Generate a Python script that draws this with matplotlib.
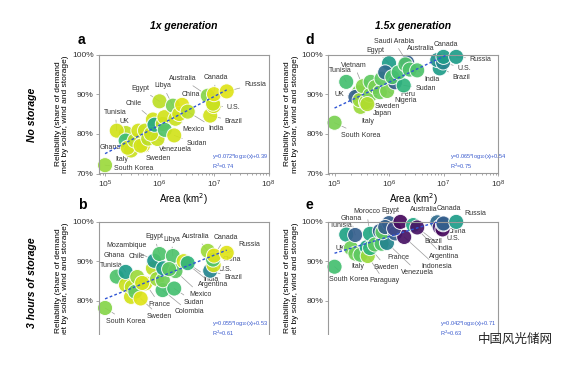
import numpy as np
import matplotlib
matplotlib.use('Agg')
import matplotlib.pyplot as plt
from matplotlib.patches import Rectangle

plt.rcParams['font.family'] = ['Liberation Sans', 'DejaVu Sans']

# ---- panel a: 1x generation, no storage ----
a_names = ['UK', 'South Korea', 'Tunisia', 'Ghana', 'Italy', '', '', '', '', '', 'Sweden',
           '', 'Chile', 'Venezuela', '', '', '', 'Egypt', '', 'Libya', '', 'Sudan', 'Mexico',
           '', '', 'India', 'Brazil', 'Australia', 'U.S.', 'China', 'Canada', 'Russia']
a_area = [2.42e5, 1.0e5, 1.64e5, 2.39e5, 3.0e5, 2.6e5, 3.5e5, 4.1e5, 5.0e5, 5.4e5, 4.5e5,
          6.2e5, 7.56e5, 9.16e5, 7.0e5, 8.1e5, 1.15e6, 1.0e6, 1.23e6, 1.76e6, 1.25e6, 1.86e6, 1.96e6,
          2.3e6, 2.6e6, 3.29e6, 8.52e6, 7.69e6, 9.83e6, 9.6e6, 9.98e6, 1.71e7]
a_rel = [80.2, 72.1, 80.8, 78.3, 75.8, 76.5, 78.3, 80.8, 77.1, 80.8, 77.0,
         78.8, 83.6, 78.7, 80.0, 82.3, 82.5, 88.2, 84.2, 87.1, 81.0, 79.6, 83.8,
         85.0, 87.3, 85.6, 84.6, 89.6, 87.0, 87.6, 90.0, 90.7]
a_col = [0.9, 0.85, 0.93, 0.68, 0.92, 0.93, 0.9, 0.93, 0.95, 0.92, 0.93,
         0.9, 0.93, 0.92, 0.92, 0.6, 0.9, 0.9, 0.93, 0.8, 0.72, 0.93, 0.92,
         0.93, 0.95, 0.9, 0.93, 0.82, 0.93, 0.92, 0.95, 0.95]

# ---- panel d: 1.5x generation, no storage ----
d_names = ['South Korea', 'Tunisia', '', 'UK', 'Italy', '', 'Vietnam', 'Japan', 'Sweden', '', '',
           '', '', 'Nigeria', '', 'Egypt', '', 'Peru', '', 'Sudan', '', 'Saudi Arabia', '', '',
           'India', 'Brazil', 'Australia', 'U.S.', 'Canada', 'Russia']
d_area = [1.0e5, 1.64e5, 2.8e5, 2.42e5, 3.0e5, 2.9e5, 3.31e5, 3.78e5, 4.5e5, 4.0e5, 4.6e5,
          5.6e5, 6.8e5, 9.24e5, 7.3e5, 1.0e6, 8.5e5, 1.29e6, 1.15e6, 1.86e6, 1.5e6, 2.15e6, 2.0e6, 2.4e6,
          3.29e6, 8.52e6, 7.69e6, 9.83e6, 9.98e6, 1.71e7]
d_rel = [82.8, 93.1, 90.5, 89.3, 86.8, 88.5, 92.0, 88.0, 89.8, 87.5, 93.1,
         91.8, 90.5, 90.8, 93.9, 97.8, 95.5, 93.0, 94.3, 92.2, 95.5, 98.0, 97.5, 96.2,
         96.0, 96.5, 98.6, 98.0, 99.4, 99.4]
d_col = [0.8, 0.7, 0.8, 0.3, 0.85, 0.85, 0.82, 0.85, 0.8, 0.88, 0.75,
         0.8, 0.78, 0.8, 0.75, 0.55, 0.35, 0.3, 0.72, 0.65, 0.7, 0.3, 0.72, 0.72,
         0.72, 0.55, 0.5, 0.45, 0.55, 0.55]

# ---- panel b: 1x generation, 3 hours of storage ----
b_names = ['South Korea', 'Tunisia', '', 'Ghana', '', '', '', 'Sweden', '', 'France', '',
           'Chile', 'Mozambique', '', 'Colombia', 'Egypt', '', '', 'Libya', 'Sudan', 'Mexico', '',
           'Argentina', 'India', 'Brazil', 'Australia', 'U.S.', 'China', 'Canada', 'Russia']
b_area = [1.0e5, 1.64e5, 2.42e5, 2.39e5, 3.0e5, 3.1e5, 3.6e5, 4.5e5, 3.9e5, 5.5e5, 4.8e5,
          7.56e5, 8.0e5, 9.0e5, 1.14e6, 1.0e6, 1.15e6, 1.17e6, 1.76e6, 1.86e6, 1.96e6, 1.5e6,
          2.78e6, 3.29e6, 8.52e6, 7.69e6, 9.83e6, 9.6e6, 9.98e6, 1.71e7]
b_rel = [78.2, 86.1, 84.0, 87.3, 81.0, 83.5, 82.3, 80.6, 86.0, 84.4, 84.5,
         88.2, 90.1, 85.5, 82.7, 91.8, 85.2, 88.2, 91.3, 83.1, 87.5, 88.0,
         90.0, 89.5, 87.6, 92.6, 89.0, 90.4, 91.4, 92.1]
b_col = [0.82, 0.72, 0.92, 0.55, 0.93, 0.9, 0.75, 0.95, 0.85, 0.93, 0.93,
         0.9, 0.52, 0.85, 0.7, 0.72, 0.78, 0.55, 0.72, 0.7, 0.75, 0.75,
         0.93, 0.65, 0.45, 0.85, 0.93, 0.72, 0.95, 0.95]

# ---- panel e: 1.5x generation, 3 hours of storage ----
e_names = ['South Korea', 'Tunisia', '', 'UK', 'Ghana', 'Italy', '', 'Paraguay', 'Sweden', 'Morocco',
           'France', '', '', 'Venezuela', '', 'Egypt', '', '', 'Indonesia', '', '', 'Argentina',
           'India', 'Australia', 'Brazil', 'China', 'U.S.', 'Canada', 'Russia']
e_area = [1.0e5, 1.64e5, 2.0e5, 2.42e5, 2.39e5, 3.0e5, 3.9e5, 4.07e5, 4.5e5, 4.47e5,
          5.5e5, 7.3e5, 6.8e5, 9.16e5, 7.6e5, 1.0e6, 8.5e5, 1.3e6, 1.9e6, 1.24e6, 1.62e6, 2.78e6,
          3.29e6, 7.69e6, 8.52e6, 9.6e6, 9.83e6, 9.98e6, 1.71e7]
e_rel = [88.6, 96.7, 93.3, 91.9, 96.6, 91.6, 93.5, 91.3, 93.3, 96.9,
         94.2, 94.4, 97.6, 94.6, 97.3, 99.6, 98.6, 97.0, 96.1, 98.2, 99.9, 99.1,
         98.5, 99.8, 98.6, 98.0, 99.3, 99.5, 99.9]
e_col = [0.7, 0.58, 0.78, 0.78, 0.3, 0.75, 0.58, 0.85, 0.65, 0.6,
         0.75, 0.72, 0.3, 0.45, 0.75, 0.3, 0.3, 0.3, 0.05, 0.22, 0.02, 0.6,
         0.05, 0.35, 0.1, 0.02, 0.3, 0.3, 0.55]

# label text positions (log10 area, %)
a_lab = {'Russia': (7.75, 92.5), 'Canada': (7.03, 94.2), 'Australia': (6.42, 93.9),
         'China': (6.58, 90.0), 'U.S.': (7.36, 86.7), 'Brazil': (7.36, 83.2),
         'India': (7.03, 81.25), 'Mexico': (6.62, 81.0), 'Sudan': (6.68, 77.5),
         'Venezuela': (6.30, 76.0), 'Sweden': (5.97, 73.75), 'South Korea': (5.52, 71.25),
         'Italy': (5.30, 73.5), 'Ghana': (5.09, 76.5), 'Tunisia': (5.19, 85.4),
         'UK': (5.35, 83.1), 'Chile': (5.52, 87.7), 'Egypt': (5.64, 91.5), 'Libya': (6.06, 92.1)}
d_lab = {'Saudi Arabia': (6.09, 103.4), 'Egypt': (5.75, 101.1), 'Australia': (6.58, 101.4),
         'Canada': (7.04, 102.4), 'Russia': (7.68, 98.8), 'U.S.': (7.38, 96.5),
         'Brazil': (7.33, 94.3), 'India': (6.79, 93.8), 'Sudan': (6.68, 91.4),
         'Peru': (6.35, 89.9), 'Nigeria': (6.30, 88.3), 'Sweden': (5.97, 86.9),
         'Japan': (5.88, 85.1), 'Italy': (5.61, 83.1), 'South Korea': (5.48, 79.7),
         'UK': (5.08, 90.0), 'Tunisia': (5.10, 95.9), 'Vietnam': (5.36, 97.3)}
b_lab = {'Egypt': (5.90, 96.2), 'Libya': (6.22, 95.5), 'Australia': (6.67, 96.2),
         'Canada': (7.21, 96.0), 'Russia': (7.64, 94.1), 'Mozambique': (5.39, 93.9),
         'Ghana': (5.17, 91.4), 'Chile': (5.58, 91.1), 'Tunisia': (5.12, 89.0),
         'China': (7.32, 90.4), 'U.S.': (7.21, 88.0), 'Brazil': (7.35, 85.8),
         'India': (6.94, 85.5), 'Argentina': (6.99, 84.0), 'Mexico': (6.75, 81.7),
         'Sudan': (6.64, 79.7), 'Colombia': (6.55, 77.2), 'France': (6.0, 79.2),
         'Sweden': (6.0, 76.1), 'South Korea': (5.38, 74.9)}
e_lab = {'Morocco': (5.59, 102.4), 'Egypt': (6.03, 102.8), 'Ghana': (5.30, 100.8),
         'Tunisia': (5.12, 99.1), 'Australia': (6.64, 103.0), 'Canada': (7.09, 103.2),
         'Russia': (7.58, 102.0), 'China': (7.24, 97.4), 'U.S.': (7.19, 95.8),
         'Brazil': (6.82, 95.0), 'India': (7.02, 93.1), 'Argentina': (7.01, 91.2),
         'Indonesia': (6.88, 88.6), 'Venezuela': (6.53, 87.2), 'France': (6.17, 90.9),
         'Sweden': (5.95, 88.5), 'Paraguay': (5.91, 85.0), 'South Korea': (5.26, 85.5),
         'Italy': (5.42, 88.6), 'UK': (5.10, 93.1)}

# fits: slope, intercept, R2
a_fit = (0.072, 0.39, 0.74)
d_fit = (0.065, 0.54, 0.75)
b_fit = (0.055, 0.53, 0.61)
e_fit = (0.042, 0.71, 0.63)

W, H = 563, 369
fig = plt.figure(figsize=(W / 100, H / 100), dpi=100)


def make_ax(left_px, top_px):
    return fig.add_axes([left_px / W, 1 - (top_px + 119) / H, 170 / W, 119 / H])


def draw_panel(ax, names, area, rel, col, labels, fit, eq_x, bottom_row=False):
    ax.scatter(area, rel, s=118, c=plt.cm.viridis(np.array(col)), edgecolors='white',
               linewidths=0.7, alpha=0.92, zorder=2, clip_on=False)
    lx = np.linspace(5, np.log10(max(area)), 50)
    ax.plot(10 ** lx, 100 * (fit[0] * lx + fit[1]), color='#2f55d4', lw=1.0,
            dashes=(2, 1.6), zorder=3)
    for n, x, y in zip(names, area, rel):
        if n in labels:
            tx, ty = labels[n]
            ax.annotate(n, xy=(x, y), xytext=(10 ** tx, ty), ha='center', va='center',
                        fontsize=5, color='#333333', zorder=1, annotation_clip=False,
                        arrowprops=dict(arrowstyle='-', color='#9a9a9a', lw=0.5,
                                        shrinkA=1, shrinkB=0))
    ax.text(eq_x, 0.14, 'y=%.3f*log$_{10}$(x)+%.2f' % (fit[0], fit[1]), transform=ax.transAxes,
            fontsize=4, color='#3355cc', va='center')
    ax.text(eq_x, 0.06, 'R$^2$=%.2f' % fit[2], transform=ax.transAxes,
            fontsize=4, color='#3355cc', va='center')

    ax.set_xscale('log')
    ax.set_xlim(10 ** 4.88, 1e8)
    ax.set_ylim(70, 100)
    ax.set_xticks([1e5, 1e6, 1e7, 1e8])
    ax.set_yticks([70, 80, 90, 100])
    ax.set_yticklabels(['70%', '80%', '90%', '100%'])
    for s in ax.spines.values():
        s.set_color('#9a9a9a')
        s.set_linewidth(0.8)
    ax.tick_params(which='both', direction='out', colors='#9a9a9a', labelcolor='#333333',
                   labelsize=6, length=2, width=0.6, pad=1.5)
    ax.tick_params(which='minor', length=1.2)
    if bottom_row:
        # the lower edge of these panels is cropped away in the source image
        ax.tick_params(labelbottom=False)
    else:
        ax.set_xlabel('Area (km$^2$)', fontsize=7, labelpad=1)
    ax.set_ylabel('Reliability (share of demand\nmet by solar, wind and storage)',
                  fontsize=6, labelpad=2, linespacing=1.1)


ax_a = make_ax(98.5, 54.5)
ax_d = make_ax(328, 54.5)
ax_b = make_ax(98.5, 221.5)
ax_e = make_ax(328, 221.5)

draw_panel(ax_a, a_names, a_area, a_rel, a_col, a_lab, a_fit, 0.668)
draw_panel(ax_d, d_names, d_area, d_rel, d_col, d_lab, d_fit, 0.72)
draw_panel(ax_b, b_names, b_area, b_rel, b_col, b_lab, b_fit, 0.668, bottom_row=True)
draw_panel(ax_e, e_names, e_area, e_rel, e_col, e_lab, e_fit, 0.66, bottom_row=True)

# column titles, row titles, panel letters
fig.text(183.5 / W, 1 - 26 / H, '1x generation', ha='center', va='center',
         fontsize=7.5, fontweight='bold', style='italic')
fig.text(413 / W, 1 - 26 / H, '1.5x generation', ha='center', va='center',
         fontsize=7.5, fontweight='bold', style='italic')
fig.text(32 / W, 1 - 115 / H, 'No storage', rotation=90, ha='center', va='center',
         fontsize=7.5, fontweight='bold', style='italic')
fig.text(32 / W, 1 - 283 / H, '3 hours of storage', rotation=90, ha='center', va='center',
         fontsize=7.5, fontweight='bold', style='italic')
for letter, x, y in [('a', 81, 40), ('d', 310, 40), ('b', 82, 205), ('e', 309, 205)]:
    fig.text(x / W, 1 - y / H, letter, ha='center', va='center', fontsize=10, fontweight='bold')

# image is cut off below the lower panels
fig.add_artist(Rectangle((0, 0), 1, (H - 335) / H, transform=fig.transFigure,
                         facecolor='white', edgecolor='none', zorder=10))
fig.text(515 / W, 1 - 339 / H, '中国风光储网', ha='center', va='center', fontsize=9,
         color='#222222', family=['Noto Sans CJK SC', 'DejaVu Sans'], zorder=11)

fig.savefig('out.png', dpi=100)
